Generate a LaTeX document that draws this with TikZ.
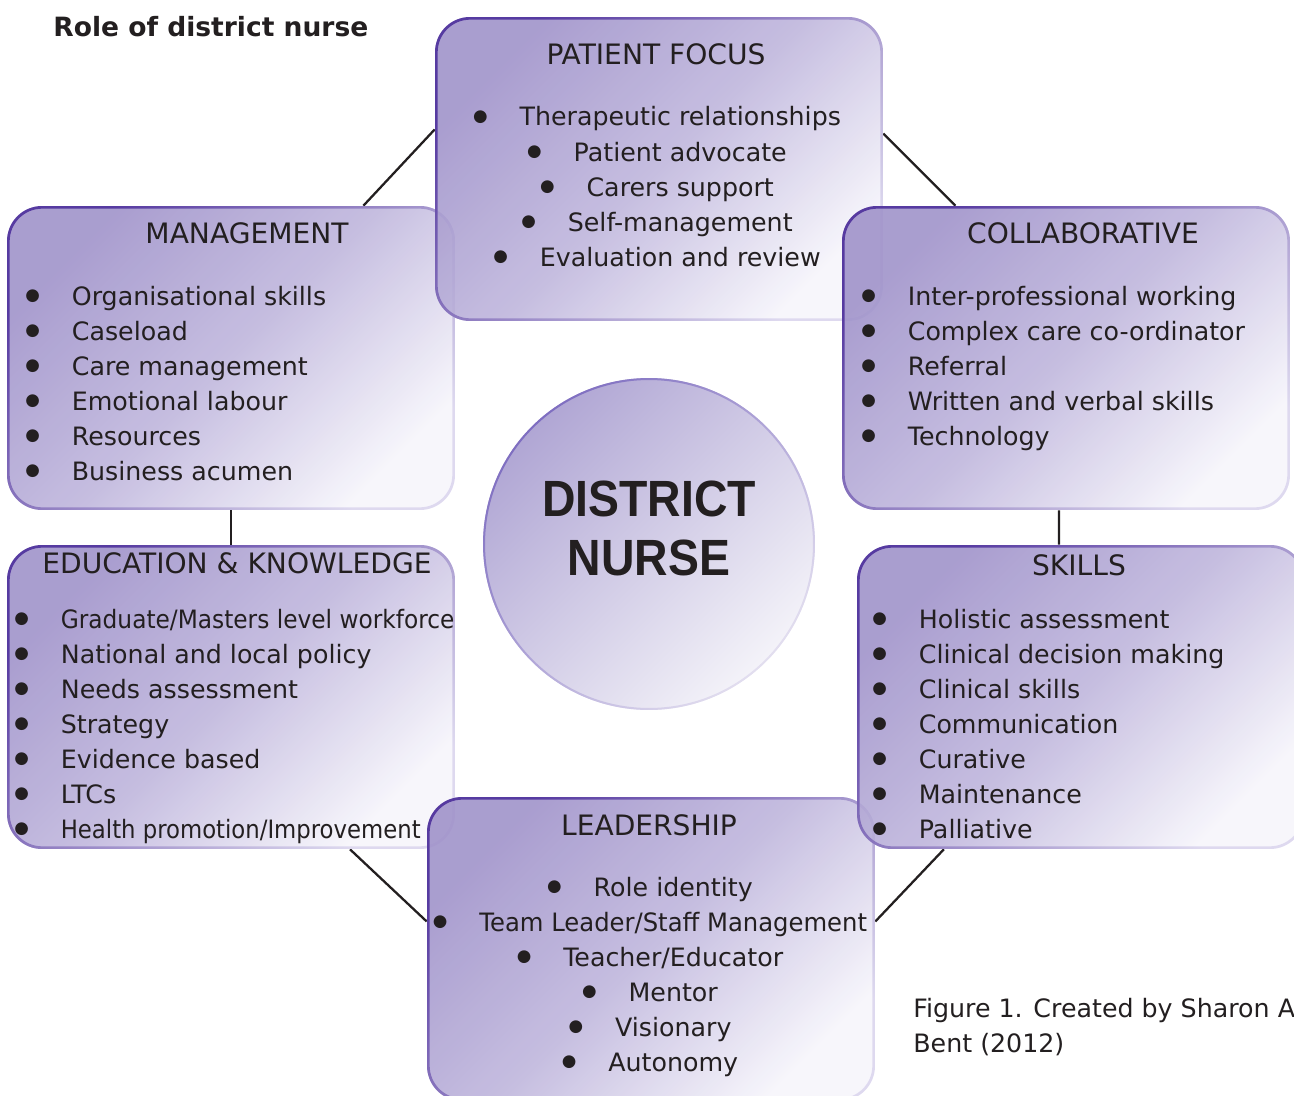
\documentclass[tikz,border=0pt]{standalone}
\usepackage{graphicx}
\usepackage{fontspec}
\setmainfont{DejaVu Sans}
\newfontfamily\dnhubfont{Liberation Sans}
\usetikzlibrary{backgrounds}

\definecolor{dntext}{RGB}{35,31,32}
\definecolor{dnfillA}{RGB}{160,147,202}
\definecolor{dnfillM}{RGB}{192,183,221}
\definecolor{dnfillB}{RGB}{246,245,251}
\definecolor{dnedgeA}{RGB}{78,48,156}
\definecolor{dnedgeB}{RGB}{220,215,238}
\definecolor{dnhubA}{RGB}{176,166,212}
\definecolor{dnhubB}{RGB}{244,243,249}
\definecolor{dnhubedgeA}{RGB}{125,108,192}
\definecolor{dnhubedgeB}{RGB}{228,224,240}

% bullet and gap in front of every item
\newcommand{\dnbul}{\makebox[1.03cm][l]{\hspace{0.1cm}\raisebox{2.7pt}{\fontsize{9.5}{10}\selectfont ●}}}
\newcommand{\dnnarrow}[2]{\scalebox{#1}[1]{#2}}

\tikzset{
  dnbox/.style={rectangle, rounded corners=0.7cm, inner sep=0pt,
    minimum width=8.96cm, minimum height=6.08cm,
    top color=dnfillA, bottom color=dnfillB, middle color=dnfillM,
    shading angle=45, fill opacity=0.9,
    path picture={\shade[sharp corners, even odd rule,
        top color=dnedgeA, bottom color=dnedgeB, shading angle=45]
      ([shift={(-3pt,3pt)}]path picture bounding box.north west) rectangle
      ([shift={(3pt,-3pt)}]path picture bounding box.south east)
      [rounded corners=0.65cm]
      ([shift={(1.5pt,-1.5pt)}]path picture bounding box.north west) rectangle
      ([shift={(-1.5pt,1.5pt)}]path picture bounding box.south east);}},
  dnhub/.style={circle, minimum size=6.64cm, inner sep=0pt,
    top color=dnhubA, bottom color=dnhubB, shading angle=45,
    path picture={\shade[even odd rule,
        top color=dnhubedgeA, bottom color=dnhubedgeB, shading angle=45]
      ([shift={(-3pt,3pt)}]path picture bounding box.north west) rectangle
      ([shift={(3pt,-3pt)}]path picture bounding box.south east)
      (path picture bounding box.center) circle (3.28cm);}},
  dnhead/.style={font=\fontsize{16}{19}\selectfont, text=dntext,
    inner sep=0pt, anchor=base},
  dnitem/.style={font=\fontsize{14.4}{17}\selectfont, text=dntext,
    inner sep=0pt, anchor=base west},
  dnitemc/.style={dnitem, anchor=base},
  dnhubtext/.style={font=\dnhubfont\bfseries\fontsize{29}{33}\selectfont,
    text=dntext, inner sep=0pt, anchor=base},
  dnlink/.style={draw=dntext, line width=1.3pt}
}

\begin{document}
\begin{tikzpicture}[x=0.02cm, y=-0.02cm]
\useasboundingbox (0,0) rectangle (1294,1095);

% boxes, back to front
\node[dnbox] (mgmt) at (231,358) {};
\node[dnbox] (focus) at (659,169) {};
\node[dnbox] (collab) at (1066,358) {};
\node[dnbox] (edu) at (231,697) {};
\node[dnbox] (lead) at (651,949) {};
\node[dnbox] (skills) at (1081,697) {};
\node[dnhub] (hub) at (649,544) {};

% headings
\node[anchor=base west, inner sep=0pt, text=dntext,
  font=\bfseries\fontsize{15.1}{18}\selectfont] (figtitle) at (53,36.7) {Role of district nurse};
\node[dnhead] (focus-h) at (656,65) {PATIENT FOCUS};
\node[dnhead] (mgmt-h) at (247,243) {MANAGEMENT};
\node[dnhead] (collab-h) at (1083,243) {COLLABORATIVE};
\node[dnhead] (edu-h) at (237,573) {EDUCATION \& KNOWLEDGE};
\node[dnhead] (skills-h) at (1079,575) {SKILLS};
\node[dnhead] (lead-h) at (649,835) {LEADERSHIP};
\node[dnhubtext] (hub-l1) at (649,516.7) {\dnnarrow{0.91}{DISTRICT}};
\node[dnhubtext] (hub-l2) at (649,575) {\dnnarrow{0.91}{NURSE}};

% items
\foreach \t [count=\i from 0] in {Therapeutic relationships, Patient advocate,
    Carers support, Self-management, Evaluation and review}
  \node[dnitemc] (focus-\i) at (654.5,126+35*\i) {\dnbul\t};
\foreach \t [count=\i from 0] in {Organisational skills, Caseload, Care management,
    Emotional labour, Resources, Business acumen}
  \node[dnitem] (mgmt-\i) at (20,305+35*\i) {\dnbul\t};
\foreach \t [count=\i from 0] in {Inter-professional working, Complex care co-ordinator,
    Referral, Written and verbal skills, Technology}
  \node[dnitem] (collab-\i) at (856,305+35*\i) {\dnbul\t};
\foreach \t [count=\i from 0] in {{\dnnarrow{0.92}{Graduate/Masters level workforce}},
    National and local policy, Needs assessment, Strategy, Evidence based, LTCs,
    {\dnnarrow{0.9}{Health promotion/Improvement}}}
  \node[dnitem] (edu-\i) at (9,628+35*\i) {\dnbul\t};
\foreach \t [count=\i from 0] in {Holistic assessment, Clinical decision making,
    Clinical skills, Communication, Curative, Maintenance, Palliative}
  \node[dnitem] (skills-\i) at (867,628+35*\i) {\dnbul\t};
\foreach \t [count=\i from 0] in {Role identity,
    {\dnnarrow{0.96}{Team Leader/Staff Management}}, Teacher/Educator,
    Mentor, Visionary, Autonomy}
  \node[dnitemc] (lead-\i) at (647.5,896+35*\i) {\dnbul\t};

\node[dnitem] (caption-1) at (913,1017) {Figure 1. Created by Sharon A};
\node[dnitem] (caption-2) at (913,1052) {Bent (2012)};

% connectors
\begin{scope}[on background layer]
\draw[dnlink] (mgmt.49.6) -- (focus.170.7);
\draw[dnlink] (focus.9.4) -- (collab.126);
\draw[dnlink] (mgmt.south) -- (edu.north);
\draw[dnlink] ([xshift=-0.14cm]collab.south) -- ([xshift=-0.44cm]skills.north);
\draw[dnlink] (edu.308.7) -- (lead.173.1);
\draw[dnlink] (lead.7.9) -- (skills.228.2);
\end{scope}
\end{tikzpicture}
\end{document}
